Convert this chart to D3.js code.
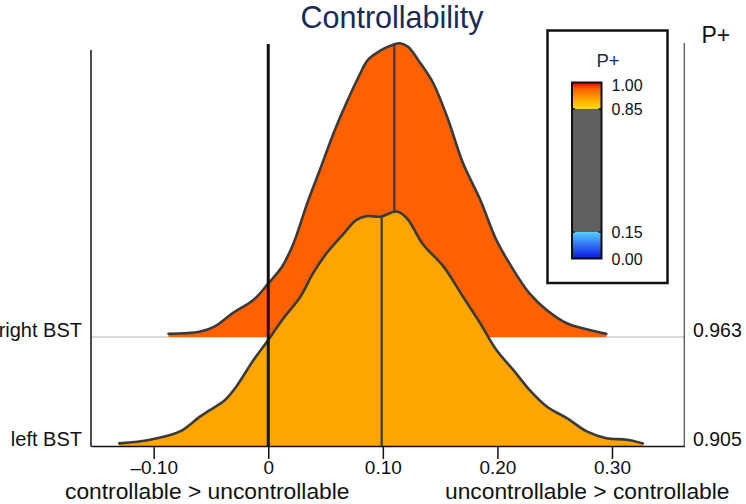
<!DOCTYPE html>
<html>
<head>
<meta charset="utf-8">
<script src="https://cdn.jsdelivr.net/npm/d3@7"></script>
<style>
  html, body { margin: 0; padding: 0; background: #fff; }
  svg { display: block; font-family: "Liberation Sans", Arial, Helvetica, sans-serif; }
</style>
</head>
<body>
<svg id="chart" width="746" height="504"></svg>
<script>
// ---------------- data ----------------
const categories = ["left BST", "right BST"];
const pPlus = [0.905, 0.963];
const pPlusLabels = ["0.905", "0.963"];
const medians = [0.099, 0.110];

// density of the "left BST" posterior (x values and heights)
const leftX = [-0.130, -0.103, -0.077, -0.060, -0.051, -0.038, -0.028, -0.013, 0.000, 0.012, 0.028, 0.039, 0.051, 0.066, 0.077, 0.086, 0.098, 0.112, 0.121, 0.135, 0.153, 0.170, 0.185, 0.199, 0.214, 0.228, 0.243, 0.261, 0.278, 0.295, 0.313, 0.327];
const leftD = [0.05, 0.12, 0.28, 0.56, 0.69, 0.88, 1.14, 1.65, 2.04, 2.42, 2.87, 3.32, 3.71, 4.09, 4.35, 4.42, 4.41, 4.51, 4.38, 3.88, 3.45, 2.87, 2.36, 1.85, 1.46, 1.08, 0.76, 0.53, 0.28, 0.15, 0.12, 0.05];

// density of the "right BST" posterior
const rightX = [-0.087, -0.060, -0.047, -0.031, -0.013, 0.000, 0.012, 0.022, 0.034, 0.045, 0.057, 0.068, 0.079, 0.087, 0.098, 0.109, 0.115, 0.122, 0.132, 0.144, 0.156, 0.170, 0.185, 0.199, 0.214, 0.228, 0.243, 0.261, 0.278, 0.295];
const rightD = [0.06, 0.10, 0.20, 0.46, 0.71, 1.03, 1.35, 1.80, 2.57, 3.21, 3.92, 4.49, 5.01, 5.33, 5.51, 5.62, 5.65, 5.58, 5.29, 4.88, 4.24, 3.34, 2.64, 1.87, 1.29, 0.84, 0.52, 0.26, 0.15, 0.06];

const xTicks = [-0.10, 0, 0.10, 0.20, 0.30];
const xTickLabels = ["\u20130.10", "0", "0.10", "0.20", "0.30"];
const legendTicks = [1.00, 0.85, 0.15, 0.00];
const legendTickLabels = ["1.00", "0.85", "0.15", "0.00"];

const title = "Controllability";
const xLabelLeft = "controllable > uncontrollable";
const xLabelRight = "uncontrollable > controllable";

// ---------------- scales ----------------
const svg = d3.select("#chart");
const x = d3.scaleLinear().domain([-0.1547, 0.3631]).range([91, 684.3]);
const yBase = d3.scalePoint().domain(categories).range([446, 337]);
const h = d3.scaleLinear().domain([0, 1]).range([0, 52]);

const warm = d3.scaleLinear().domain([0.85, 0.905, 0.963, 1.0])
  .range(["#ffdc00", "#ffa500", "#ff6000", "#e80000"]);
const cool = d3.scaleLinear().domain([0, 0.15]).range(["#0a14e6", "#55ccff"]);

const series = [
  { name: categories[1], xs: rightX, ds: rightD, p: pPlus[1], med: medians[1] },
  { name: categories[0], xs: leftX, ds: leftD, p: pPlus[0], med: medians[0] }
];

const ink = "#3a3a3a";

// gray baseline for upper ridge
svg.append("line")
  .attr("x1", x.range()[0]).attr("x2", x.range()[1])
  .attr("y1", yBase(categories[1])).attr("y2", yBase(categories[1]))
  .attr("stroke", "#cccccc").attr("stroke-width", 1.5);

// ridges
series.forEach(s => {
  const base = yBase(s.name);
  const pts = s.xs.map((v, i) => [v, s.ds[i]]);
  const curve = d3.curveCatmullRom.alpha(0.5);
  const area = d3.area().x(d => x(d[0])).y0(base).y1(d => base - h(d[1])).curve(curve);
  const line = d3.line().x(d => x(d[0])).y(d => base - h(d[1])).curve(curve);
  const g = svg.append("g");
  g.append("path").attr("d", area(pts)).attr("fill", warm(s.p)).attr("stroke", "none");
  const dens = d3.scaleLinear().domain(s.xs).range(s.ds);
  g.append("line")
    .attr("x1", x(s.med)).attr("x2", x(s.med))
    .attr("y1", base).attr("y2", base - h(dens(s.med)))
    .attr("stroke", ink).attr("stroke-width", 2.2);
  g.append("path").attr("d", line(pts)).attr("fill", "none")
    .attr("stroke", ink).attr("stroke-width", 2.6)
    .attr("stroke-linejoin", "round").attr("stroke-linecap", "round");
});

// frame
const bottom = yBase(categories[0]);
svg.append("line").attr("x1", x.range()[0]).attr("x2", x.range()[0])
  .attr("y1", 50).attr("y2", bottom + 0.75).attr("stroke", "#111").attr("stroke-width", 1.5);
svg.append("line").attr("x1", x.range()[1]).attr("x2", x.range()[1])
  .attr("y1", 43).attr("y2", bottom + 0.75).attr("stroke", "#555").attr("stroke-width", 1.3);

// x axis
const xAxis = d3.axisBottom(x).tickValues(xTicks)
  .tickFormat((d, i) => xTickLabels[i]).tickSize(13).tickSizeOuter(0).tickPadding(1.5);
const ax = svg.append("g").attr("transform", `translate(0,${bottom})`).call(xAxis);
ax.select(".domain").attr("stroke", "#111").attr("stroke-width", 1.5);
ax.selectAll(".tick line").attr("stroke", "#111").attr("stroke-width", 1.5);
ax.selectAll(".tick text").attr("font-size", 19).attr("fill", "#111")
  .attr("font-family", "'Liberation Sans', Arial, sans-serif");

// zero line
svg.append("line").attr("x1", x(0)).attr("x2", x(0))
  .attr("y1", 44).attr("y2", bottom + 1)
  .attr("stroke", "#111").attr("stroke-width", 3);

// category labels (left) and P+ labels (right)
categories.forEach((c, i) => {
  svg.append("text").attr("x", 82).attr("y", yBase(c))
    .attr("text-anchor", "end").attr("font-size", 20).attr("fill", "#111").text(c);
  svg.append("text").attr("x", 693).attr("y", yBase(c))
    .attr("text-anchor", "start").attr("font-size", 19.5).attr("fill", "#111").text(pPlusLabels[i]);
});
svg.append("text").attr("x", 701.5).attr("y", 43).attr("font-size", 23).attr("fill", "#111").text("P+");

// axis titles
svg.append("text").attr("x", 65).attr("y", 499).attr("font-size", 22.8).attr("fill", "#111").text(xLabelLeft);
svg.append("text").attr("x", 445).attr("y", 499).attr("font-size", 22.8).attr("fill", "#111").text(xLabelRight);

// title
svg.append("text").attr("x", 392).attr("y", 28).attr("text-anchor", "middle")
  .attr("font-size", 30.5).attr("fill", "#1c2a55").text(title);

// ---------------- legend ----------------
svg.append("rect").attr("x", 547.5).attr("y", 30.5).attr("width", 120).attr("height", 252.5)
  .attr("fill", "#fff").attr("stroke", "#111").attr("stroke-width", 2.5);
svg.append("text").attr("x", 608).attr("y", 67).attr("text-anchor", "middle")
  .attr("font-size", 18.5).attr("fill", "#1c2a55").text("P+");

const ly = d3.scaleLinear().domain([0, 1]).range([258.5, 82.5]);
const bx0 = 572, bw = 29.5;
const defs = svg.append("defs");
const gw = defs.append("linearGradient").attr("id", "gWarm").attr("x1", 0).attr("x2", 0).attr("y1", 1).attr("y2", 0);
[0.85, 0.905, 0.963, 1.0].forEach(v => gw.append("stop").attr("offset", (v - 0.85) / 0.15).attr("stop-color", warm(v)));
const gc = defs.append("linearGradient").attr("id", "gCool").attr("x1", 0).attr("x2", 0).attr("y1", 1).attr("y2", 0);
[0, 0.15].forEach(v => gc.append("stop").attr("offset", v / 0.15).attr("stop-color", cool(v)));

svg.append("rect").attr("x", bx0).attr("width", bw)
  .attr("y", ly(1)).attr("height", ly(0.85) - ly(1)).attr("fill", "url(#gWarm)");
svg.append("rect").attr("x", bx0).attr("width", bw)
  .attr("y", ly(0.85)).attr("height", ly(0.15) - ly(0.85)).attr("fill", "#606060");
svg.append("rect").attr("x", bx0).attr("width", bw)
  .attr("y", ly(0.15)).attr("height", ly(0) - ly(0.15)).attr("fill", "url(#gCool)");
svg.append("rect").attr("x", bx0).attr("width", bw)
  .attr("y", ly(1)).attr("height", ly(0) - ly(1))
  .attr("fill", "none").attr("stroke", "#111").attr("stroke-width", 2);
// small boundary notches
[0.85, 0.15].forEach(v => {
  [bx0, bx0 + bw - 3].forEach(xx => {
    svg.append("line").attr("x1", xx).attr("x2", xx + 3).attr("y1", ly(v)).attr("y2", ly(v))
      .attr("stroke", "#111").attr("stroke-width", 1.5);
  });
});
legendTicks.forEach((v, i) => {
  svg.append("text").attr("x", 611.5).attr("y", ly(v) + (v === 1 ? 8.5 : 6))
    .attr("font-size", 16).attr("fill", "#111").text(legendTickLabels[i]);
});
</script>
</body>
</html>
